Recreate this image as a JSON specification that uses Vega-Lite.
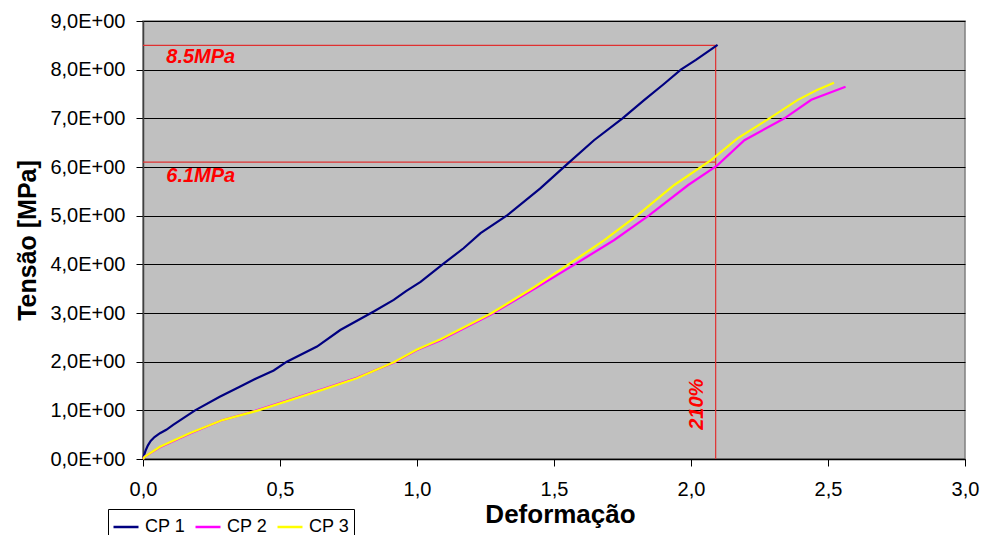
{
  "$schema": "https://vega.github.io/schema/vega-lite/v6.json",
  "width": 822,
  "height": 438,
  "autosize": {"type": "none"},
  "padding": {"left": 143, "top": 21, "right": 19, "bottom": 76},
  "background": "white",
  "config": {
    "font": "Liberation Sans",
    "view": {"fill": "#C0C0C0", "stroke": "#808080", "strokeWidth": 1.5}
  },
  "datasets": {
    "curves": [
      {"serie": "CP 1", "x": 0, "y": 0},
      {"serie": "CP 1", "x": 0.004, "y": 0.08},
      {"serie": "CP 1", "x": 0.01, "y": 0.18},
      {"serie": "CP 1", "x": 0.018, "y": 0.28},
      {"serie": "CP 1", "x": 0.028, "y": 0.37},
      {"serie": "CP 1", "x": 0.042, "y": 0.45},
      {"serie": "CP 1", "x": 0.062, "y": 0.53},
      {"serie": "CP 1", "x": 0.085, "y": 0.6},
      {"serie": "CP 1", "x": 0.11, "y": 0.7},
      {"serie": "CP 1", "x": 0.15, "y": 0.85},
      {"serie": "CP 1", "x": 0.19, "y": 1.0},
      {"serie": "CP 1", "x": 0.28, "y": 1.28},
      {"serie": "CP 1", "x": 0.355, "y": 1.49},
      {"serie": "CP 1", "x": 0.415, "y": 1.66},
      {"serie": "CP 1", "x": 0.477, "y": 1.82},
      {"serie": "CP 1", "x": 0.525, "y": 2.0},
      {"serie": "CP 1", "x": 0.635, "y": 2.31},
      {"serie": "CP 1", "x": 0.72, "y": 2.65},
      {"serie": "CP 1", "x": 0.842, "y": 3.03},
      {"serie": "CP 1", "x": 0.915, "y": 3.27},
      {"serie": "CP 1", "x": 0.96, "y": 3.45},
      {"serie": "CP 1", "x": 1.013, "y": 3.64},
      {"serie": "CP 1", "x": 1.098, "y": 4.02},
      {"serie": "CP 1", "x": 1.17, "y": 4.33},
      {"serie": "CP 1", "x": 1.232, "y": 4.64},
      {"serie": "CP 1", "x": 1.33, "y": 5.01},
      {"serie": "CP 1", "x": 1.45, "y": 5.56},
      {"serie": "CP 1", "x": 1.55, "y": 6.07},
      {"serie": "CP 1", "x": 1.646, "y": 6.55},
      {"serie": "CP 1", "x": 1.75, "y": 7.0},
      {"serie": "CP 1", "x": 1.83, "y": 7.38},
      {"serie": "CP 1", "x": 1.9, "y": 7.7},
      {"serie": "CP 1", "x": 1.963, "y": 8.0},
      {"serie": "CP 1", "x": 2.018, "y": 8.2},
      {"serie": "CP 1", "x": 2.097, "y": 8.51},
      {"serie": "CP 2", "x": 0, "y": 0},
      {"serie": "CP 2", "x": 0.007, "y": 0.05},
      {"serie": "CP 2", "x": 0.062, "y": 0.24},
      {"serie": "CP 2", "x": 0.17, "y": 0.52},
      {"serie": "CP 2", "x": 0.29, "y": 0.8},
      {"serie": "CP 2", "x": 0.415, "y": 1.0},
      {"serie": "CP 2", "x": 0.537, "y": 1.22},
      {"serie": "CP 2", "x": 0.659, "y": 1.44},
      {"serie": "CP 2", "x": 0.78, "y": 1.67},
      {"serie": "CP 2", "x": 0.915, "y": 1.98},
      {"serie": "CP 2", "x": 1.0, "y": 2.24},
      {"serie": "CP 2", "x": 1.086, "y": 2.44},
      {"serie": "CP 2", "x": 1.27, "y": 2.97},
      {"serie": "CP 2", "x": 1.43, "y": 3.5},
      {"serie": "CP 2", "x": 1.573, "y": 3.99},
      {"serie": "CP 2", "x": 1.72, "y": 4.5},
      {"serie": "CP 2", "x": 1.848, "y": 5.01},
      {"serie": "CP 2", "x": 1.99, "y": 5.63},
      {"serie": "CP 2", "x": 2.095, "y": 6.03},
      {"serie": "CP 2", "x": 2.195, "y": 6.55},
      {"serie": "CP 2", "x": 2.341, "y": 7.0},
      {"serie": "CP 2", "x": 2.439, "y": 7.38},
      {"serie": "CP 2", "x": 2.564, "y": 7.65},
      {"serie": "CP 3", "x": 0, "y": 0},
      {"serie": "CP 3", "x": 0.007, "y": 0.05},
      {"serie": "CP 3", "x": 0.062, "y": 0.25},
      {"serie": "CP 3", "x": 0.17, "y": 0.53},
      {"serie": "CP 3", "x": 0.29, "y": 0.8},
      {"serie": "CP 3", "x": 0.415, "y": 0.99},
      {"serie": "CP 3", "x": 0.537, "y": 1.21},
      {"serie": "CP 3", "x": 0.659, "y": 1.43},
      {"serie": "CP 3", "x": 0.78, "y": 1.66},
      {"serie": "CP 3", "x": 0.915, "y": 1.99},
      {"serie": "CP 3", "x": 1.0, "y": 2.25},
      {"serie": "CP 3", "x": 1.086, "y": 2.46},
      {"serie": "CP 3", "x": 1.27, "y": 2.99},
      {"serie": "CP 3", "x": 1.43, "y": 3.54},
      {"serie": "CP 3", "x": 1.55, "y": 3.99},
      {"serie": "CP 3", "x": 1.68, "y": 4.48},
      {"serie": "CP 3", "x": 1.805, "y": 5.01},
      {"serie": "CP 3", "x": 1.939, "y": 5.63},
      {"serie": "CP 3", "x": 2.073, "y": 6.14},
      {"serie": "CP 3", "x": 2.17, "y": 6.59},
      {"serie": "CP 3", "x": 2.286, "y": 7.0},
      {"serie": "CP 3", "x": 2.39, "y": 7.38},
      {"serie": "CP 3", "x": 2.46, "y": 7.58},
      {"serie": "CP 3", "x": 2.522, "y": 7.73}
    ],
    "refs": [
      {"x": 0, "x2": 2.09, "y": 8.5, "y2": 8.5},
      {"x": 0, "x2": 2.09, "y": 6.1, "y2": 6.1},
      {"x": 2.09, "x2": 2.09, "y": 0, "y2": 8.5}
    ],
    "labels": [
      {"x": 0.085, "y": 8.27, "label": "8.5MPa", "angle": 0},
      {"x": 0.085, "y": 5.81, "label": "6.1MPa", "angle": 0},
      {"x": 2.022, "y": 0.6, "label": "210%", "angle": 270}
    ]
  },
  "layer": [
    {
      "data": {"name": "refs"},
      "mark": {"type": "rule", "color": "#E03030", "strokeWidth": 1.2},
      "encoding": {
        "x": {"field": "x", "type": "quantitative", "scale": {"domain": [0, 3], "nice": false}},
        "x2": {"field": "x2"},
        "y": {"field": "y", "type": "quantitative", "scale": {"domain": [0, 9], "nice": false}},
        "y2": {"field": "y2"}
      }
    },
    {
      "data": {"name": "curves"},
      "mark": {"type": "line", "strokeWidth": 2.2},
      "encoding": {
        "x": {
          "field": "x", "type": "quantitative",
          "scale": {"domain": [0, 3], "nice": false},
          "axis": {
            "values": [0, 0.5, 1, 1.5, 2, 2.5, 3],
            "labelExpr": "replace(format(datum.value, '.1f'), '.', ',')",
            "labelFlush": false, "labelOverlap": false,
            "grid": false,
            "domainColor": "black", "domainWidth": 1.5,
            "tickColor": "black", "tickSize": 7, "tickWidth": 1,
            "labelFontSize": 20, "labelColor": "black", "labelPadding": 13,
            "labelFont": "Liberation Sans",
            "title": "Deformação",
            "titleFontSize": 26, "titleFont": "Liberation Sans", "titleFontWeight": "bold", "titleColor": "black",
            "titleX": 417, "titleY": 55, "titleBaseline": "middle"
          }
        },
        "y": {
          "field": "y", "type": "quantitative",
          "scale": {"domain": [0, 9], "nice": false},
          "axis": {
            "values": [0, 1, 2, 3, 4, 5, 6, 7, 8, 9],
            "labelExpr": "replace(format(datum.value, '.1f'), '.', ',') + 'E+00'",
            "labelFlush": false, "labelOverlap": false,
            "grid": true, "gridColor": "black", "gridWidth": 1, "gridOpacity": 1,
            "domainColor": "#404040", "domainWidth": 1.5,
            "tickColor": "black", "tickSize": 7, "tickWidth": 1,
            "labelFontSize": 20, "labelColor": "black", "labelPadding": 11,
            "labelFont": "Liberation Sans",
            "title": "Tensão [MPa]",
            "titleFontSize": 25, "titleFont": "Liberation Sans", "titleFontWeight": "bold", "titleColor": "black",
            "titleX": -116, "titleY": 219, "titleAngle": 270, "titleBaseline": "middle", "titleAlign": "center"
          }
        },
        "color": {
          "field": "serie", "type": "nominal",
          "scale": {"domain": ["CP 1", "CP 2", "CP 3"], "range": ["#000080", "#FF00FF", "#FFFF00"]},
          "legend": {
            "title": null,
            "orient": "none", "legendX": -35, "legendY": 488,
            "direction": "horizontal",
            "strokeColor": "black", "fillColor": "white", "padding": 4,
            "symbolType": "stroke", "symbolSize": 625, "symbolStrokeWidth": 2.5,
            "labelFontSize": 18, "labelFont": "Liberation Sans", "labelColor": "black",
            "labelOffset": 5, "columnPadding": 4
          }
        }
      }
    },
    {
      "data": {"name": "labels"},
      "mark": {"type": "text", "color": "#FF0000", "fontSize": 20, "fontWeight": "bold", "fontStyle": "italic", "font": "Liberation Sans", "align": "left", "baseline": "middle"},
      "encoding": {
        "x": {"field": "x", "type": "quantitative"},
        "y": {"field": "y", "type": "quantitative"},
        "text": {"field": "label"},
        "angle": {"field": "angle", "type": "quantitative", "scale": null}
      }
    }
  ]
}
